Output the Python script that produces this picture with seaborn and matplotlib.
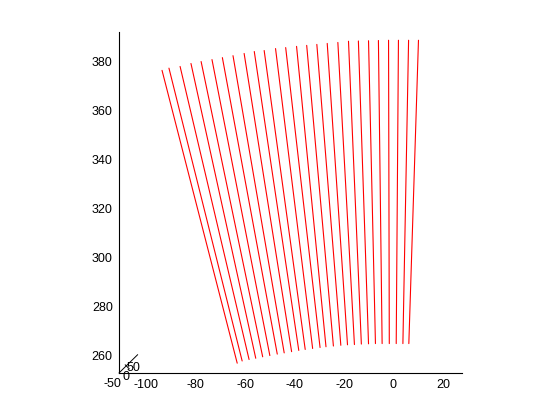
"""Fan of red segments, MATLAB-style top view, redrawn with seaborn."""

import matplotlib.pyplot as plt
import numpy as np
import pandas as pd
import seaborn as sns

# line end points (data units)
x_bottom = [-63.2, -61.2, -58.4, -55.7, -52.9, -50.0, -47.0, -44.2, -41.2, -38.3,
            -35.7, -32.7, -29.7, -27.3, -24.3, -21.3, -18.6, -15.8, -13.0, -10.1,
            -7.3, -4.6, -1.7, 1.1, 3.8, 6.2]
y_bottom = [256.9, 257.8, 258.4, 258.9, 259.5, 260.0, 260.6, 261.1, 261.6, 262.1,
            262.5, 262.9, 263.3, 263.6, 263.9, 264.2, 264.4, 264.5, 264.7, 264.8,
            264.9, 264.9, 264.9, 264.9, 264.9, 264.9]
x_top = [-93.6, -90.8, -86.3, -81.9, -77.8, -73.4, -69.2, -64.9, -60.4, -56.3,
         -52.3, -47.7, -43.6, -39.2, -35.1, -31.0, -26.8, -22.5, -18.2, -14.2,
         -10.1, -6.1, -2.0, 2.0, 6.1, 10.1]
y_top = [376.5, 377.4, 378.1, 379.3, 380.1, 380.9, 381.7, 382.5, 383.4, 384.2,
         384.6, 385.4, 385.8, 386.3, 386.7, 387.1, 387.5, 387.9, 388.4, 388.5,
         388.6, 388.7, 388.8, 388.8, 388.8, 388.8]

x_ticks = [-100, -80, -60, -40, -20, 0, 20]
y_ticks = [260, 280, 300, 320, 340, 360, 380]
z_tick_labels = ["-50", "0", "50"]
x_lim = (-111, 27.7)
y_lim = (252.9, 392.2)


def main() -> None:
    sns.set_style("white")
    plt.rcParams["font.family"] = ["Liberation Sans", "DejaVu Sans"]
    plt.rcParams["axes.unicode_minus"] = False
    plt.rcParams["text.color"] = "black"
    plt.rcParams["xtick.color"] = "black"
    plt.rcParams["ytick.color"] = "black"

    n = len(x_bottom)
    df = pd.DataFrame({
        "x": np.concatenate([x_bottom, x_top]),
        "y": np.concatenate([y_bottom, y_top]),
        "line": np.concatenate([np.arange(n), np.arange(n)]),
        "order": np.repeat([0, 1], n),
    }).sort_values(["line", "order"])

    fig = plt.figure(figsize=(5.6, 4.2), dpi=100)
    ax = fig.add_axes([0.2125, 0.112, 0.6125, 0.812])
    sns.lineplot(data=df, x="x", y="y", units="line", estimator=None, sort=False,
                 color="#ff0000", linewidth=0.8, ax=ax)

    ax.set_xlim(*x_lim)
    ax.set_ylim(*y_lim)
    ax.set_xticks(x_ticks)
    ax.set_yticks(y_ticks)
    ax.set_xlabel("")
    ax.set_ylabel("")
    for side in ("top", "right"):
        ax.spines[side].set_visible(False)
    for side in ("left", "bottom"):
        ax.spines[side].set_color("black")
        ax.spines[side].set_linewidth(0.8)
    ax.tick_params(direction="in", length=3, width=0.8, colors="black",
                   labelsize=9, pad=4.5)

    # stub of the third (z) axis seen almost end-on
    ax.plot([0, 0.0545], [0, 0.0537], color="black", lw=0.7,
            transform=ax.transAxes, clip_on=False)
    ax.plot([0.018, 0.03], [0.024, 0.012], color="black", lw=0.7,
            transform=ax.transAxes, clip_on=False)
    for lab, (tx, ty) in zip(z_tick_labels, [(-0.018, -0.032), (0.02, -0.012), (0.042, 0.014)]):
        ax.text(tx, ty, lab, transform=ax.transAxes, ha="center", va="center",
                fontsize=9, color="black", clip_on=False)

    fig.savefig("out.png", dpi=100)


if __name__ == "__main__":
    main()
